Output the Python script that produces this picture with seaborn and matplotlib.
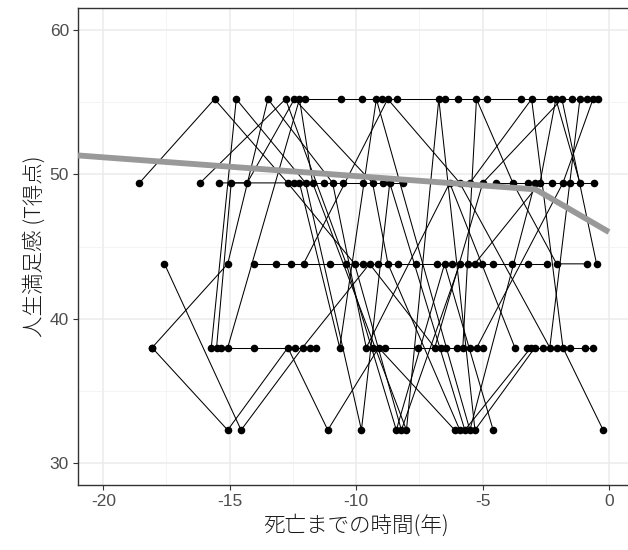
import matplotlib
matplotlib.use("Agg")
import matplotlib.pyplot as plt
from matplotlib.ticker import MultipleLocator
import pandas as pd
import seaborn as sns

# Years before death at each assessment, one list per participant
years_by_person = [
    [-12.04, -10.59, -9.77, -8.99, -8.37, -6.5, -5.99, -4.84, -3.46, -2.34, -1.48, -0.87, -0.44],
    [-12.44, -11.29, -10.52, -9.74, -8.95, -8.16],
    [-4.45, -3.21, -2.27, -1.54, -0.59],
    [-14.02, -13.16, -12.57, -11.05, -9.74, -9.15, -8.34, -7.62, -6.82, -6.22, -5.58, -5.04, -4.58, -3.85, -3.2, -2.47],
    [-15.33, -14.02, -12.4, -11.84, -11.58],
    [-9.35, -8.87, -7.55, -6.65, -6.03, -5.5, -4.98],
    [-3.26, -2.6, -2.06, -1.54, -0.95, -0.62],
    [-18.57, -15.6, -12.71, -10.06, -8.21, -5.9],
    [-17.58, -14.55, -12.12, -9.47, -6.89, -4.99, -1.86, -0.49],
    [-18.07, -15.08, -12.7, -11.12, -9.11, -6.1],
    [-18.07, -15.08, -13.49, -10.93, -9.6, -6.3, -3.72],
    [-16.17, -12.79, -10.39, -8.41, -6.5, -4.58],
    [-15.52, -14.94, -14.31, -12.44, -9.35, -8.74, -5.9],
    [-15.73, -14.74, -12.0, -9.79, -8.67, -5.7, -3.09],
    [-15.41, -12.24, -10.65, -9.2, -6.43, -5.5, -2.93],
    [-15.08, -12.24, -11.72, -8.01, -6.73, -5.3, -2.93],
    [-12.08, -8.75, -5.9, -2.34, -1.15],
    [-5.78, -5.24, -3.8, -2.07, -0.88],
    [-5.31, -2.73, -2.1, -1.15],
    [-5.5, -3.06, -1.82, -0.23],
    [-5.23, -1.82, -0.63],
]

# Life-satisfaction T-scores at the same assessments
scores_by_person = [
    [55.2] * 13,
    [49.4] * 6,
    [49.4] * 5,
    [43.8] * 16,
    [38.0] * 5,
    [38.0] * 7,
    [38.0] * 6,
    [49.4, 55.2, 49.4, 43.8, 32.3, 43.8],
    [43.8, 32.3, 38.0, 43.8, 38.0, 49.4, 55.2, 43.8],
    [38.0, 32.3, 38.0, 32.3, 38.0, 32.3],
    [38.0, 43.8, 55.2, 49.4, 38.0, 49.4, 38.0],
    [49.4, 55.2, 43.8, 32.3, 43.8, 32.3],
    [38.0, 49.4, 49.4, 55.2, 49.4, 43.8, 32.3],
    [38.0, 55.2, 49.4, 32.3, 49.4, 32.3, 38.0],
    [49.4, 49.4, 38.0, 55.2, 38.0, 32.3, 49.4],
    [38.0, 55.2, 49.4, 32.3, 55.2, 32.3, 38.0],
    [43.8, 55.2, 49.4, 38.0, 55.2],
    [38.0, 55.2, 49.4, 43.8, 43.8],
    [43.8, 49.4, 55.2, 49.4],
    [49.4, 55.2, 38.0, 32.3],
    [38.0, 49.4, 55.2],
]

# Average trajectory (gray line)
trend_years = [-21.0, -2.9, 0.0]
trend_scores = [51.3, 48.95, 46.0]

x_ticks = [-20, -15, -10, -5, 0]
y_ticks = [30, 40, 50, 60]

rows = []
for pid, (yrs, scs) in enumerate(zip(years_by_person, scores_by_person)):
    for t, s in zip(yrs, scs):
        rows.append((pid, t, s))
df = pd.DataFrame(rows, columns=["id", "years", "score"])
trend = pd.DataFrame({"years": trend_years, "score": trend_scores})

fig = plt.figure(figsize=(6.28, 5.5), dpi=100)
fig.patch.set_facecolor("white")
ax = fig.add_axes([78 / 628, 65 / 550, (634.25 - 78) / 628, 477 / 550])

sns.lineplot(data=df, x="years", y="score", units="id", estimator=None,
             sort=True, color="black", linewidth=0.75, ax=ax, zorder=3)
sns.scatterplot(data=df, x="years", y="score", color="black", s=30,
                linewidth=0, ax=ax, zorder=4)
sns.lineplot(data=trend, x="years", y="score", color="#999999",
             linewidth=4.2, ax=ax, zorder=5, solid_capstyle="butt")

ax.set_xlim(-21.0, 1.0)
ax.set_ylim(28.5, 61.5)
ax.set_xticks(x_ticks)
ax.set_yticks(y_ticks)
ax.xaxis.set_minor_locator(MultipleLocator(2.5))
ax.yaxis.set_minor_locator(MultipleLocator(5))
ax.set_xticklabels([str(v) for v in x_ticks])
ax.set_yticklabels([str(v) for v in y_ticks])

ax.set_facecolor("white")
ax.grid(which="major", color="#EBEBEB", linewidth=1.1)
ax.grid(which="minor", color="#F2F2F2", linewidth=0.6)
ax.set_axisbelow(True)
for sp in ax.spines.values():
    sp.set_color("#333333")
    sp.set_linewidth(1.0)

ax.tick_params(which="major", length=3.5, width=0.8, color="#333333",
               labelcolor="#4D4D4D", labelsize=12.5, pad=3)
ax.tick_params(which="minor", length=0)
for lab in ax.get_xticklabels() + ax.get_yticklabels():
    lab.set_fontfamily(["Liberation Sans", "DejaVu Sans"])

jp = ["Noto Sans CJK JP", "DejaVu Sans"]
ax.set_xlabel("死亡までの時間(年)", fontsize=15.5, family=jp, color="#1A1A1A",
              fontweight="light", labelpad=4)
ax.set_ylabel("人生満足感 (T得点)", fontsize=15.5, family=jp, color="#1A1A1A",
              fontweight="light", labelpad=3)

fig.savefig("out.png", dpi=100, facecolor="white")
